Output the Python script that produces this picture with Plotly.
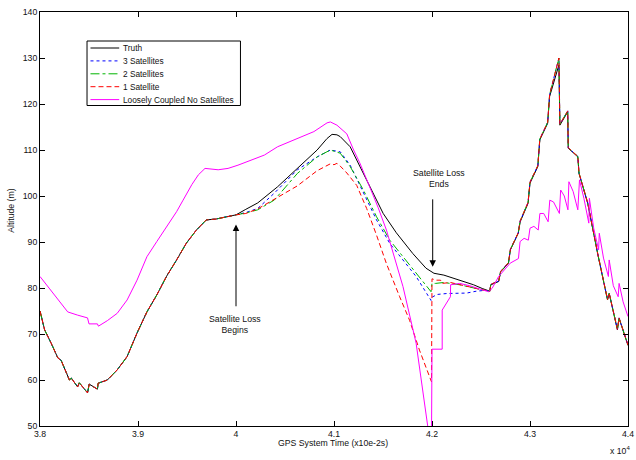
import plotly.graph_objects as go

# ---------------- data (time in 1e-2 s, altitude in m) ----------------
# common segment before satellite loss (truth and all satellite cases coincide)
pre_t = [38000, 38047, 38114, 38182, 38215, 38283, 38300, 38320, 38384, 38401, 38485, 38502,
         38586, 38593, 38687, 38788, 38889, 38990, 39091, 39192, 39293, 39394, 39495,
         39596, 39697, 39798, 39899, 40000]
pre_alt = [75.0, 70.9, 68.0, 64.8, 64.3, 60.7, 60.0, 60.4, 58.5, 59.4, 57.2, 59.1,
           58.0, 59.3, 60.0, 62.2, 65.1, 70.2, 74.8, 78.5, 82.6, 86.1, 89.8,
           92.6, 94.8, 95.0, 95.5, 95.9]

truth_mid_t = [40100, 40222, 40424, 40626, 40828, 40929, 40980, 41030, 41064, 41165, 41263,
               41364, 41502, 41636, 41804, 41939, 42020, 42121, 42222, 42323, 42424, 42512, 42579]
truth_mid_alt = [97.1, 98.5, 102.0, 106.1, 110.0, 112.5, 113.4, 113.3, 112.9, 110.7, 106.4,
                 102.0, 96.2, 92.0, 87.5, 84.3, 83.2, 82.8, 82.1, 81.4, 80.7, 79.9, 79.4]

sat3_mid_t = [40100, 40222, 40390, 40626, 40828, 40963, 41064, 41165, 41300, 41434, 41569,
              41704, 41838, 41990, 42000, 42054, 42150, 42354, 42450, 42545]
sat3_mid_alt = [96.4, 97.3, 100.6, 105.7, 108.5, 110.0, 109.6, 106.7, 100.6, 94.8, 89.7,
                86.1, 82.5, 77.3, 78.0, 78.6, 78.8, 78.9, 79.3, 79.5]

sat2_mid_t = [40100, 40222, 40390, 40626, 40828, 40963, 41064, 41165, 41300, 41434, 41569,
              41704, 41838, 41990, 42000, 42037, 42121, 42283, 42512]
sat2_mid_alt = [96.3, 97.0, 99.1, 104.9, 108.5, 110.0, 109.3, 106.4, 101.3, 95.5, 90.4,
                86.8, 83.2, 79.2, 81.0, 81.0, 81.2, 80.7, 79.6]

sat1_mid_t = [40100, 40222, 40424, 40626, 40828, 40963, 41000, 41030, 41064, 41131, 41232,
              41333, 41434, 41535, 41670, 41771, 41872, 41995, 42000, 42040, 42087, 42104,
              42188, 42283, 42384, 42512, 42579]
sat1_mid_alt = [96.2, 97.2, 99.7, 102.2, 105.5, 107.0, 106.8, 107.1, 106.5, 105.0, 102.3,
                97.3, 91.5, 85.3, 78.1, 73.0, 66.5, 59.6, 82.0, 81.7, 81.7, 81.0,
                81.2, 80.7, 80.3, 79.6, 79.4]

# common segment after recovery
post_t = [42590, 42600, 42680, 42700, 42780, 42800, 42880, 42900, 42980, 43000, 43080,
          43100, 43180, 43200, 43270, 43295, 43305, 43385, 43390, 43488, 43500, 43589,
          43690, 43774, 43791, 43808, 43892, 43909, 43993, 44000]
post_truth = [79.3, 80.7, 81.4, 83.5, 85.4, 88.3, 91.9, 94.4, 98.4, 102.8, 106.4,
              112.2, 115.8, 121.6, 127.0, 128.5, 115.4, 118.3, 110.4, 108.5, 104.9, 98.4,
              87.5, 79.6, 77.4, 78.8, 70.9, 73.4, 68.0, 67.5]
post_sat = [79.3, 80.8, 81.5, 83.6, 85.5, 88.4, 92.0, 94.6, 98.6, 103.0, 106.6,
            112.4, 116.0, 122.0, 127.8, 130.0, 115.6, 118.5, 110.5, 108.6, 105.0, 98.5,
            87.6, 79.7, 77.5, 78.9, 71.0, 73.5, 68.1, 67.6]

loose_t = [38000, 38182, 38283, 38384, 38485, 38500, 38586, 38596, 38687, 38788, 38889,
           38990, 39091, 39192, 39293, 39394, 39460, 39550, 39616, 39684, 39818, 39919,
           40020, 40155, 40290, 40424, 40626, 40795, 40929, 40963, 41030, 41131, 41200,
           41263, 41364, 41450, 41535, 41620, 41704, 41838, 41956, 41995, 42000, 42104,
           42104, 42188, 42190, 42283, 42384, 42512, 42579, 42613, 42680, 42798, 42882,
           42899, 42940, 42983, 43000, 43040, 43084, 43101, 43140, 43185, 43202, 43240,
           43300, 43313, 43350, 43387, 43397, 43440, 43488, 43505, 43550, 43600, 43606,
           43650, 43700, 43707, 43750, 43800, 43808, 43850, 43900, 43909, 43950, 44000]
loose_alt = [82.5, 77.4, 74.8, 74.1, 73.5, 72.2, 72.2, 71.7, 72.9, 74.5, 77.4,
             81.7, 86.8, 90.1, 93.3, 96.6, 99.1, 102.5, 104.6, 106.0, 105.7, 106.0,
             106.7, 107.8, 108.9, 110.7, 112.5, 114.0, 115.9, 116.1, 115.4, 113.5, 110.0,
             107.2, 102.0, 97.5, 92.6, 86.5, 80.3, 68.0, 50.0, 47.5, 66.7, 66.7,
             75.2, 78.1, 80.7, 81.0, 80.5, 79.6, 79.2, 79.9, 82.5, 85.4, 86.4,
             90.1, 90.8, 90.4, 93.0, 93.4, 92.6, 96.2, 96.2, 94.4, 99.1, 98.7,
             96.2, 101.3, 100.0, 97.0, 103.1, 101.0, 97.0, 103.5, 99.5, 94.1, 99.5,
             93.0, 88.3, 91.9, 86.5, 82.5, 86.1, 80.5, 78.1, 81.0, 77.0, 73.8]

series_names = ["Truth", "3 Satellites", "2 Satellites", "1 Satellite",
                "Loosely Coupled No Satellites"]
series_colors = ["#000000", "#0000ff", "#00b400", "#ff0000", "#ff00ff"]
series_dash = ["solid", "dot", "dashdot", "5px,3px", "solid"]

x_tickvals = [38000, 39000, 40000, 41000, 42000, 43000, 44000]
x_ticktext = ["3.8", "3.9", "4", "4.1", "4.2", "4.3", "4.4"]
y_tickvals = [50, 60, 70, 80, 90, 100, 110, 120, 130, 140]

series_x = [pre_t + truth_mid_t + post_t,
            pre_t + sat3_mid_t + post_t,
            pre_t + sat2_mid_t + post_t,
            pre_t + sat1_mid_t + post_t,
            loose_t]
series_y = [pre_alt + truth_mid_alt + post_truth,
            pre_alt + sat3_mid_alt + post_sat,
            pre_alt + sat2_mid_alt + post_sat,
            pre_alt + sat1_mid_alt + post_sat,
            loose_alt]

FONT = "Liberation Sans, Arial, sans-serif"
FS = 8.7
FS_LEG = 8.3
TXT = "#111"

fig = go.Figure()
for name, xs, ys, c, d in zip(series_names, series_x, series_y, series_colors, series_dash):
    fig.add_trace(go.Scatter(x=xs, y=ys, mode="lines", name=name, showlegend=False,
                             line=dict(color=c, width=1, dash=d)))

# plot area in page pixels: x 40..634, y 12..426
L, R, T, B = 40, 634, 12, 426
W, H = 636, 460
def px_x(p):
    return (p - L) / (R - L)
def px_y(p):
    return (B - p) / (B - T)

shapes = [dict(type="rect", xref="paper", yref="paper",
               x0=px_x(87.5), x1=px_x(242.5), y0=px_y(105.5), y1=px_y(41),
               line=dict(color="#000000", width=1), fillcolor="white", layer="above")]
annotations = []
for i, (name, c, d) in enumerate(zip(series_names, series_colors, series_dash)):
    yy = px_y(48 + 12.9 * i)
    shapes.append(dict(type="line", xref="paper", yref="paper",
                       x0=px_x(91), x1=px_x(120), y0=yy, y1=yy,
                       line=dict(color=c, width=1, dash=d), layer="above"))
    annotations.append(dict(xref="paper", yref="paper", x=px_x(122), y=yy,
                            text=name, showarrow=False, xanchor="left", yanchor="middle",
                            font=dict(family=FONT, size=FS_LEG, color=TXT)))

# arrows and labels
annotations += [
    dict(x=40000, y=93.8, ax=40000, ay=75.7, xref="x", yref="y", axref="x", ayref="y",
         text="", showarrow=True, arrowhead=2, arrowsize=1.3, arrowwidth=1, arrowcolor="#000"),
    dict(x=39990, y=72.1, xref="x", yref="y", text="Satellite Loss<br>Begins",
         showarrow=False, xanchor="center", yanchor="middle",
         font=dict(family=FONT, size=FS, color=TXT)),
    dict(x=42007, y=84.6, ax=42007, ay=99.6, xref="x", yref="y", axref="x", ayref="y",
         text="", showarrow=True, arrowhead=2, arrowsize=1.3, arrowwidth=1, arrowcolor="#000"),
    dict(x=42070, y=103.8, xref="x", yref="y", text="Satellite Loss<br>Ends",
         showarrow=False, xanchor="center", yanchor="middle",
         font=dict(family=FONT, size=FS, color=TXT)),
    dict(xref="paper", yref="paper", x=px_x(10.5), y=px_y(210), text="Altitude (m)",
         textangle=-90, showarrow=False, xanchor="center", yanchor="middle",
         font=dict(family=FONT, size=FS, color=TXT)),
    dict(xref="paper", yref="paper", x=px_x(336), y=px_y(443), text="GPS System Time (x10e-2s)",
         showarrow=False, xanchor="center", yanchor="middle",
         font=dict(family=FONT, size=FS, color=TXT)),
    dict(xref="paper", yref="paper", x=px_x(614), y=px_y(450), text="x 10<sup>4</sup>",
         xanchor="left", yanchor="middle", showarrow=False,
         font=dict(family=FONT, size=FS, color=TXT)),
]

axis_common = dict(showline=True, linecolor="#000", linewidth=1, mirror="ticks",
                   ticks="inside", ticklen=5, tickcolor="#000", tickwidth=1,
                   showgrid=False, zeroline=False, ticklabeloverflow="allow",
                   tickfont=dict(family=FONT, size=FS, color=TXT))

fig.update_layout(
    width=W, height=H,
    margin=dict(l=L, r=W - R, t=T, b=H - B, pad=0),
    paper_bgcolor="white", plot_bgcolor="white",
    xaxis=dict(range=[38000, 44000], tickvals=x_tickvals, ticktext=x_ticktext, **axis_common),
    yaxis=dict(range=[50, 140], tickvals=y_tickvals, **axis_common),
    shapes=shapes, annotations=annotations, showlegend=False,
)

fig.write_html("out.html", config={"displayModeBar": False},
               post_script="document.body.style.margin='0';document.body.style.overflow='hidden';")
